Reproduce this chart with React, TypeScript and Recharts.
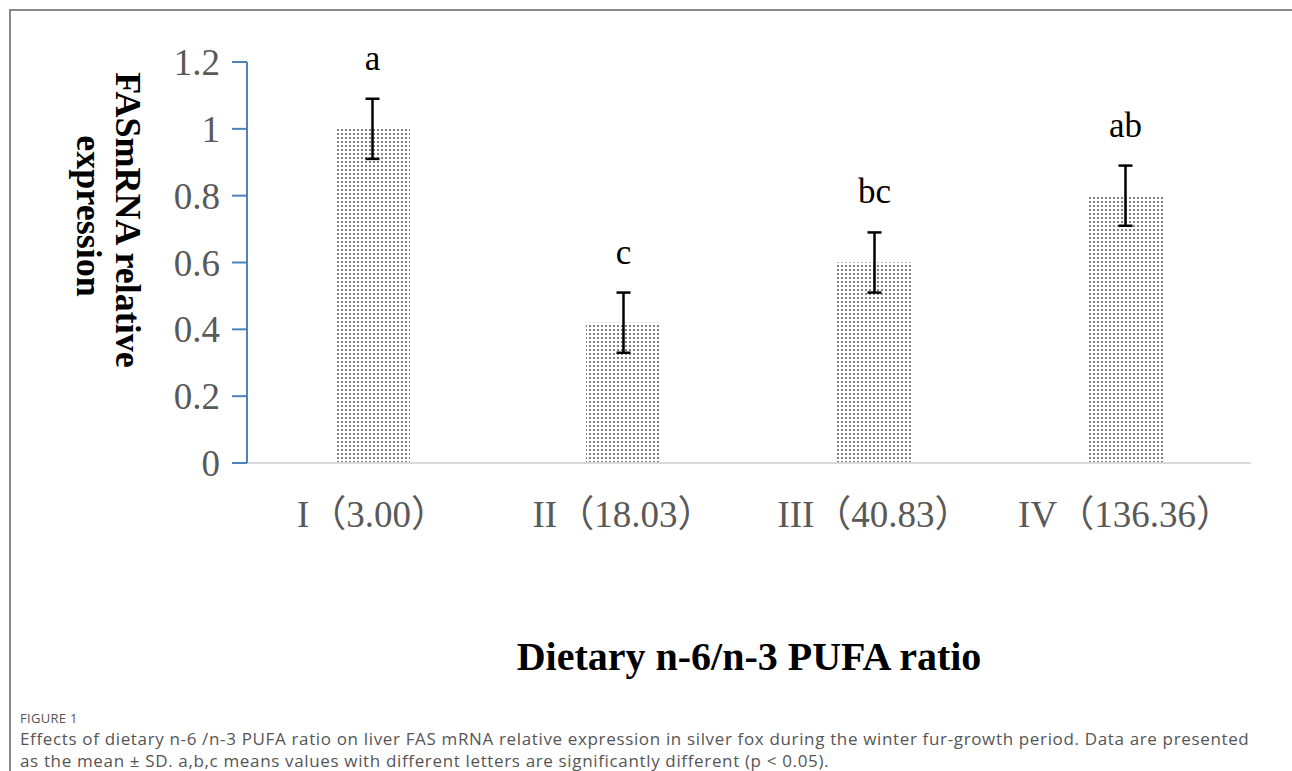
import React from "react";
import { BarChart, Bar, XAxis, YAxis, ErrorBar, LabelList, Label } from "recharts";

const groups = ["I（3.00）", "II（18.03）", "III（40.83）", "IV（136.36）"];
const means = [1.0, 0.42, 0.6, 0.8];
const sds = [0.09, 0.09, 0.09, 0.09];
const letters = ["a", "c", "bc", "ab"];
const yTicks = [0, 0.2, 0.4, 0.6, 0.8, 1, 1.2];

const data = groups.map((g, i) => ({ group: g, mean: means[i], sd: sds[i], letter: letters[i] }));

const serif = '"Liberation Serif", "Times New Roman", "Noto Sans CJK SC", serif';
const sans = '"Open Sans", "Noto Sans", sans-serif';

function LetterLabel(props: any) {
  const { x, y, width, height, value, index } = props;
  const v = means[index];
  const perUnit = v ? height / v : 0;
  const errTop = y - sds[index] * perUnit;
  return (
    <text
      x={x + width / 2}
      y={errTop - 29}
      textAnchor="middle"
      fontFamily={serif}
      fontSize={35}
      fill="#000"
    >
      {value}
    </text>
  );
}

function YTitle() {
  return (
    <text
      transform="translate(100,212) rotate(90)"
      textAnchor="middle"
      fontFamily={serif}
      fontWeight="bold"
      fontSize={36}
      fill="#000"
    >
      <tspan x={0} y={-8}>FASmRNA relative</tspan>
      <tspan x={-4} y={31}>expression</tspan>
    </text>
  );
}

export default function App() {
  return (
    <div
      style={{
        position: "fixed",
        left: 8,
        top: 8,
        width: 1284,
        height: 763,
        background: "#fff",
        overflow: "hidden",
      }}
    >
      <div
        style={{
          position: "absolute",
          left: 1,
          top: 1,
          width: 1300,
          height: 780,
          borderTop: "2px solid #8a8a8a",
          borderLeft: "2px solid #8a8a8a",
        }}
      />
      <div style={{ position: "absolute", left: 0, top: 0 }}>
        <BarChart
          width={1284}
          height={690}
          data={data}
          margin={{ top: 54, right: 41, bottom: 0, left: 0 }}
          barCategoryGap={0}
        >
          <defs>
            <pattern id="dots" width={4} height={4} patternUnits="userSpaceOnUse">
              <rect width={4} height={4} fill="#fff" />
              <rect x={1} y={1} width={2} height={2} fill="#808080" />
            </pattern>
          </defs>
          <XAxis
            dataKey="group"
            height={235}
            tickSize={0}
            tickMargin={38}
            axisLine={{ stroke: "#d9d9d9", strokeWidth: 2 }}
            tick={{ fill: "#595959", fontSize: 37, fontFamily: serif }}
            interval={0}
          >
            <Label
              value="Dietary n-6/n-3 PUFA ratio"
              position="insideBottom"
              offset={28}
              style={{ fontFamily: serif, fontSize: 40, fontWeight: "bold", fill: "#000" }}
            />
          </XAxis>
          <YAxis
            width={239}
            domain={[0, 1.2]}
            ticks={yTicks}
            tickSize={15}
            tickMargin={12}
            axisLine={{ stroke: "#4f81bd", strokeWidth: 2 }}
            tickLine={{ stroke: "#4f81bd", strokeWidth: 2 }}
            tick={{ fill: "#595959", fontSize: 37, fontFamily: serif }}
            label={{ content: () => <YTitle /> }}
          />
          <Bar dataKey="mean" barSize={75} fill="url(#dots)" isAnimationActive={false}>
            <ErrorBar dataKey="sd" width={7} stroke="#000" strokeWidth={2.5} direction="y" />
            <LabelList dataKey="letter" content={<LetterLabel />} />
          </Bar>
        </BarChart>
      </div>
      <div
        style={{
          position: "absolute",
          left: 12,
          top: 701,
          fontFamily: sans,
          color: "#555",
          whiteSpace: "nowrap",
        }}
      >
        <div style={{ fontSize: 13, letterSpacing: 0.3, lineHeight: "18px" }}>FIGURE 1</div>
        <div style={{ fontSize: 17, letterSpacing: 0.65, lineHeight: "22px", marginTop: 1 }}>
          Effects of dietary n-6 /n-3 PUFA ratio on liver FAS mRNA relative expression in silver fox during the winter fur-growth period. Data are presented
        </div>
        <div style={{ fontSize: 17, letterSpacing: 0.65, lineHeight: "22px" }}>
          as the mean ± SD. a,b,c means values with different letters are significantly different (p &lt; 0.05).
        </div>
      </div>
    </div>
  );
}
